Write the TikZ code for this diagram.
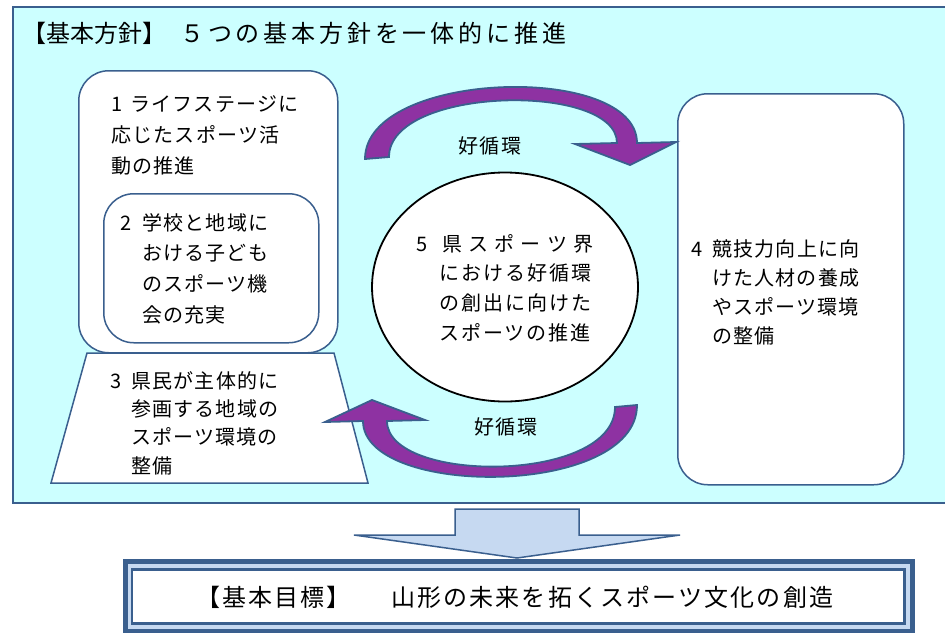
\documentclass[tikz,border=0pt]{standalone}
\usepackage{fontspec}
\newfontfamily\jp{Noto Sans CJK JP}[LetterSpace=6]
\newfontfamily\jpc{Noto Sans CJK JP}[LetterSpace=10]
\newfontfamily\jpt{Noto Sans CJK JP}[LetterSpace=0]
\newfontfamily\jpw{Noto Sans CJK JP}[LetterSpace=16]
\newfontfamily\jpb{Noto Sans CJK JP}[LetterSpace=9]
\usetikzlibrary{shapes.geometric}
\definecolor{cyanbg}{HTML}{CCFFFF}
\definecolor{steel}{HTML}{3A5F8E}
\definecolor{arrowpurple}{HTML}{8E32A2}
\definecolor{paleblue}{HTML}{C6D9F1}
\begin{document}
\begin{tikzpicture}[x=1pt,y=-1pt,
  rbox/.style={draw=steel, line width=1.5pt, fill=white, rounded corners=30pt, anchor=north west, inner sep=0pt},
  body/.style={align=left, anchor=north west, inner sep=0pt},
  cyc/.style={fill=arrowpurple, draw=steel, line width=1.8pt, line join=miter},
  lbl/.style={font={\jp\fontsize{20}{24}\selectfont}, inner sep=0pt}
]
\useasboundingbox (0,0) rectangle (945,632);
\fill[white] (0,0) rectangle (945,632);
% outer frame
\draw[steel, line width=2.5pt, fill=cyanbg] (13,7) rectangle (965,503);
% title
\node[anchor=base west, inner sep=0pt, font={\fontsize{24}{28}\selectfont}] (title) at (22,42)
  {{\jpt 【基本方針】}\hspace{14pt}{\jpw ５つの基本方針を一体的に推進}};
% boxes
\node[rbox, minimum width=259pt, minimum height=282pt] (b1) at (78,70) {};
\node[rbox, minimum width=215pt, minimum height=149pt] (b2) at (103,193) {};
\draw[steel, line width=1.5pt, fill=white] (87,353) -- (334,353) -- (368,483) -- (51,483) -- cycle;
\coordinate (b3) at (210,418);
\node[rbox, minimum width=226pt, minimum height=391pt] (b4) at (677,93) {};
\node[draw=black, line width=1.8pt, fill=white, ellipse, minimum width=266pt, minimum height=229pt, inner sep=0pt] (c5) at (505,287) {};
% cycle arrows
\path[cyc] (365,159) .. controls (365,70) and (637,62) .. (637,143) -- (676,142) -- (630,165) -- (575,144) -- (617,143)
  .. controls (617,82) and (389,86) .. (389,157) -- cycle;
\path[cyc] (637,405) .. controls (637,498) and (363,498) .. (363,421) -- (325,422) -- (372,400) -- (425,420) -- (387,421)
  .. controls (387,484) and (615,484) .. (615,407) -- cycle;
\node[lbl] (l1) at (490,146) {好循環};
\node[lbl] (l2) at (506,427) {好循環};
% texts
\node[body, font={\jp\fontsize{20}{31}\selectfont}] (t1) at (111,95)
  {\makebox[19pt][l]{1}ライフステージに\\応じたスポーツ活\\動の推進};
\node[body, font={\jp\fontsize{20}{30.7}\selectfont}] (t2) at (120,213)
  {\makebox[22pt][l]{2}学校と地域に\\\hspace*{22pt}おける子ども\\\hspace*{22pt}のスポーツ機\\\hspace*{22pt}会の充実};
\node[body, font={\jp\fontsize{20}{28.3}\selectfont}] (t3) at (110,371)
  {\makebox[21pt][l]{3}県民が主体的に\\\hspace*{21pt}参画する地域の\\\hspace*{21pt}スポーツ環境の\\\hspace*{21pt}整備};
\node[body, font={\jp\fontsize{20}{29}\selectfont}] (t4) at (691,239)
  {\makebox[21pt][l]{4}競技力向上に向\\\hspace*{21pt}けた人材の養成\\\hspace*{21pt}やスポーツ環境\\\hspace*{21pt}の整備};
\node[body, font={\jpc\fontsize{20}{29.7}\selectfont}] (t5) at (416,234)
  {\makebox[26pt][l]{5}\makebox[151pt][s]{県\hfil ス\hfil ポ\hfil ー\hfil ツ\hfil 界}\\\hspace*{23pt}における好循環\\\hspace*{23pt}の創出に向けた\\\hspace*{23pt}スポーツの推進};
% block arrow
\draw[steel, line width=1.5pt, fill=paleblue, line join=miter] (455,509) -- (579,509) -- (579,535) -- (680,535) -- (517,558) -- (354,535) -- (455,535) -- cycle;
% goal box
\fill[steel] (123,559) rectangle (915,634);
\fill[paleblue] (128,564) rectangle (910,629);
\fill[steel] (131,568) rectangle (906,625);
\fill[white] (133,571) rectangle (903,622);
\node[anchor=base west, inner sep=0pt, font={\jpb\fontsize{24}{28}\selectfont}] (goal) at (196,606)
  {【基本目標】\hspace{14pt}　山形の未来を拓くスポーツ文化の創造};
\end{tikzpicture}
\end{document}
